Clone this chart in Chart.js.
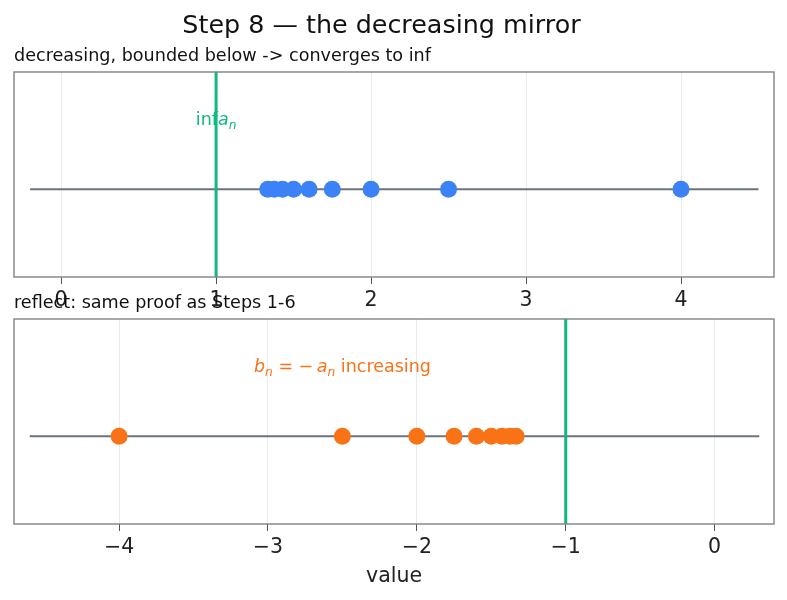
<!DOCTYPE html>
<html>
<head>
<meta charset="utf-8">
<script src="https://cdn.jsdelivr.net/npm/chart.js@4/dist/chart.umd.min.js"></script>
<style>
  body { margin:0; background:#fff; font-family:'DejaVu Sans', sans-serif; }
  #page { position:relative; width:787px; height:600px; overflow:hidden; }
  .box { position:absolute; left:0; width:787px; }
  .txt { position:absolute; white-space:nowrap; color:#111; }
</style>
</head>
<body>
<div id="page">
  <div class="box" style="top:0;height:330px"><canvas id="top"></canvas></div>
  <div class="box" style="top:300px;height:300px"><canvas id="bottom"></canvas></div>
  <div class="txt" style="left:0;width:763px;text-align:center;top:9px;font-size:25.4px;line-height:30px">Step 8 — the decreasing mirror</div>
  <div class="txt" style="left:14px;top:45px;font-size:17.6px;line-height:20px">decreasing, bounded below -&gt; converges to inf</div>
  <div class="txt" style="left:14px;top:292px;font-size:17.6px;line-height:20px">reflect: same proof as Steps 1-6</div>
</div>
<script>
// sequence a_n (decreasing) and its mirror b_n = -a_n
const aSeq = [4, 2.5, 2, 1.75, 1.6, 1.5, 1.4286, 1.375, 1.3333]
const bSeq = [-4, -2.5, -2, -1.75, -1.6, -1.5, -1.4286, -1.375, -1.3333]
const infA = 1, supB = -1
const topTicks = [0, 1, 2, 3, 4]
const bottomTicks = [-4, -3, -2, -1, 0]
const lineA = [-0.2, 4.5], lineB = [-4.6, 0.3]
const xLimA = [-0.304, 4.6], xLimB = [-4.706, 0.399]
const yLim = [-0.6, 0.8]

const FONT = "'DejaVu Sans', sans-serif"
const green = '#10b981', blue = '#3b82f6', orange = '#f97316', gray = '#6b7280'

const framePlugin = {
    id: 'frame',
    afterDraw(chart) {
        const {ctx, chartArea: a} = chart
        ctx.save()
        ctx.strokeStyle = '#7d8388'
        ctx.lineWidth = 1.4
        ctx.strokeRect(a.left, a.top, a.right - a.left, a.bottom - a.top)
        ctx.restore()
    }
}

// small mathtext-like label: parts = [[text, 'r'|'i'|'s'], ...]
const notePlugin = {
    id: 'mathNote',
    afterDatasetsDraw(chart, args, opts) {
        if (!opts || !opts.parts) return
        const ctx = chart.ctx, size = opts.size
        const fontOf = k => k === 'r' ? `${size}px ${FONT}` :
            k === 'i' ? `oblique ${size}px ${FONT}` : `oblique ${size*0.7}px ${FONT}`
        let w = 0
        for (const [t, k] of opts.parts) { ctx.font = fontOf(k); w += ctx.measureText(t).width }
        let x = chart.scales.x.getPixelForValue(opts.x) - w/2
        const y = chart.scales.y.getPixelForValue(opts.y)
        ctx.save()
        ctx.fillStyle = opts.color
        ctx.textBaseline = 'alphabetic'
        for (const [t, k] of opts.parts) {
            ctx.font = fontOf(k)
            ctx.fillText(t, x, y + size*0.35 + (k === 's' ? size*0.22 : 0))
            x += ctx.measureText(t).width
        }
        ctx.restore()
    }
}

const numberLine = (seq, color, bound, line, xLim, ticks, note, padTop, axisH, withTitle) => {
    return {
        type: 'scatter',
        data: {
            datasets: [{
                data: seq.map(v => ({x: v, y: 0})),
                backgroundColor: color, borderColor: color,
                pointRadius: 8.5, pointHoverRadius: 8.5, borderWidth: 0, order: 0
            }, {
                type: 'line',
                data: [{x: bound, y: yLim[0]}, {x: bound, y: yLim[1]}],
                borderColor: green, borderWidth: 3, pointRadius: 0, order: 1
            }, {
                type: 'line',
                data: [{x: line[0], y: 0}, {x: line[1], y: 0}],
                borderColor: gray, borderWidth: 2, pointRadius: 0, order: 2
            }]
        },
        options: {
            responsive: true, maintainAspectRatio: false, animation: false,
            layout: { padding: {top: padTop, left: 14, right: 13, bottom: 0} },
            scales: {
                x: {
                    type: 'linear', min: xLim[0], max: xLim[1],
                    afterBuildTicks: s => { s.ticks = ticks.map(v => ({value: v})) },
                    afterFit: s => { s.height = axisH },
                    grid: { color: '#e9ebee', lineWidth: 1, tickColor: '#555', tickLength: 7 },
                    border: { display: false },
                    ticks: {
                        color: '#222', padding: 4, maxRotation: 0,
                        font: {family: FONT, size: 20.5},
                        callback: v => String(v).replace('-', '\u2212')
                    },
                    title: {
                        display: withTitle, text: 'value', color: '#222',
                        font: {family: FONT, size: 20.5}, padding: {top: 0, bottom: 11.5}
                    }
                },
                y: { display: false, min: yLim[0], max: yLim[1] }
            },
            plugins: {
                legend: { display: false }, tooltip: { enabled: false },
                mathNote: note
            }
        },
        plugins: [framePlugin, notePlugin]
    }
}

new Chart(document.getElementById('top'), numberLine(aSeq, blue, infA, lineA, xLimA, topTicks,
    {x: infA, y: 0.48, size: 17.5, color: green, parts: [['inf', 'r'], ['a', 'i'], ['n', 's']]},
    72, 53, false))

new Chart(document.getElementById('bottom'), numberLine(bSeq, orange, supB, lineB, xLimB, bottomTicks,
    {x: -2.5, y: 0.48, size: 17.5, color: orange,
     parts: [['b', 'i'], ['n', 's'], [' = ', 'r'], ['\u2212', 'r'], ['\u2009', 'r'], ['a', 'i'], ['n', 's'], [' increasing', 'r']]},
    19, 76, true))
</script>
</body>
</html>
